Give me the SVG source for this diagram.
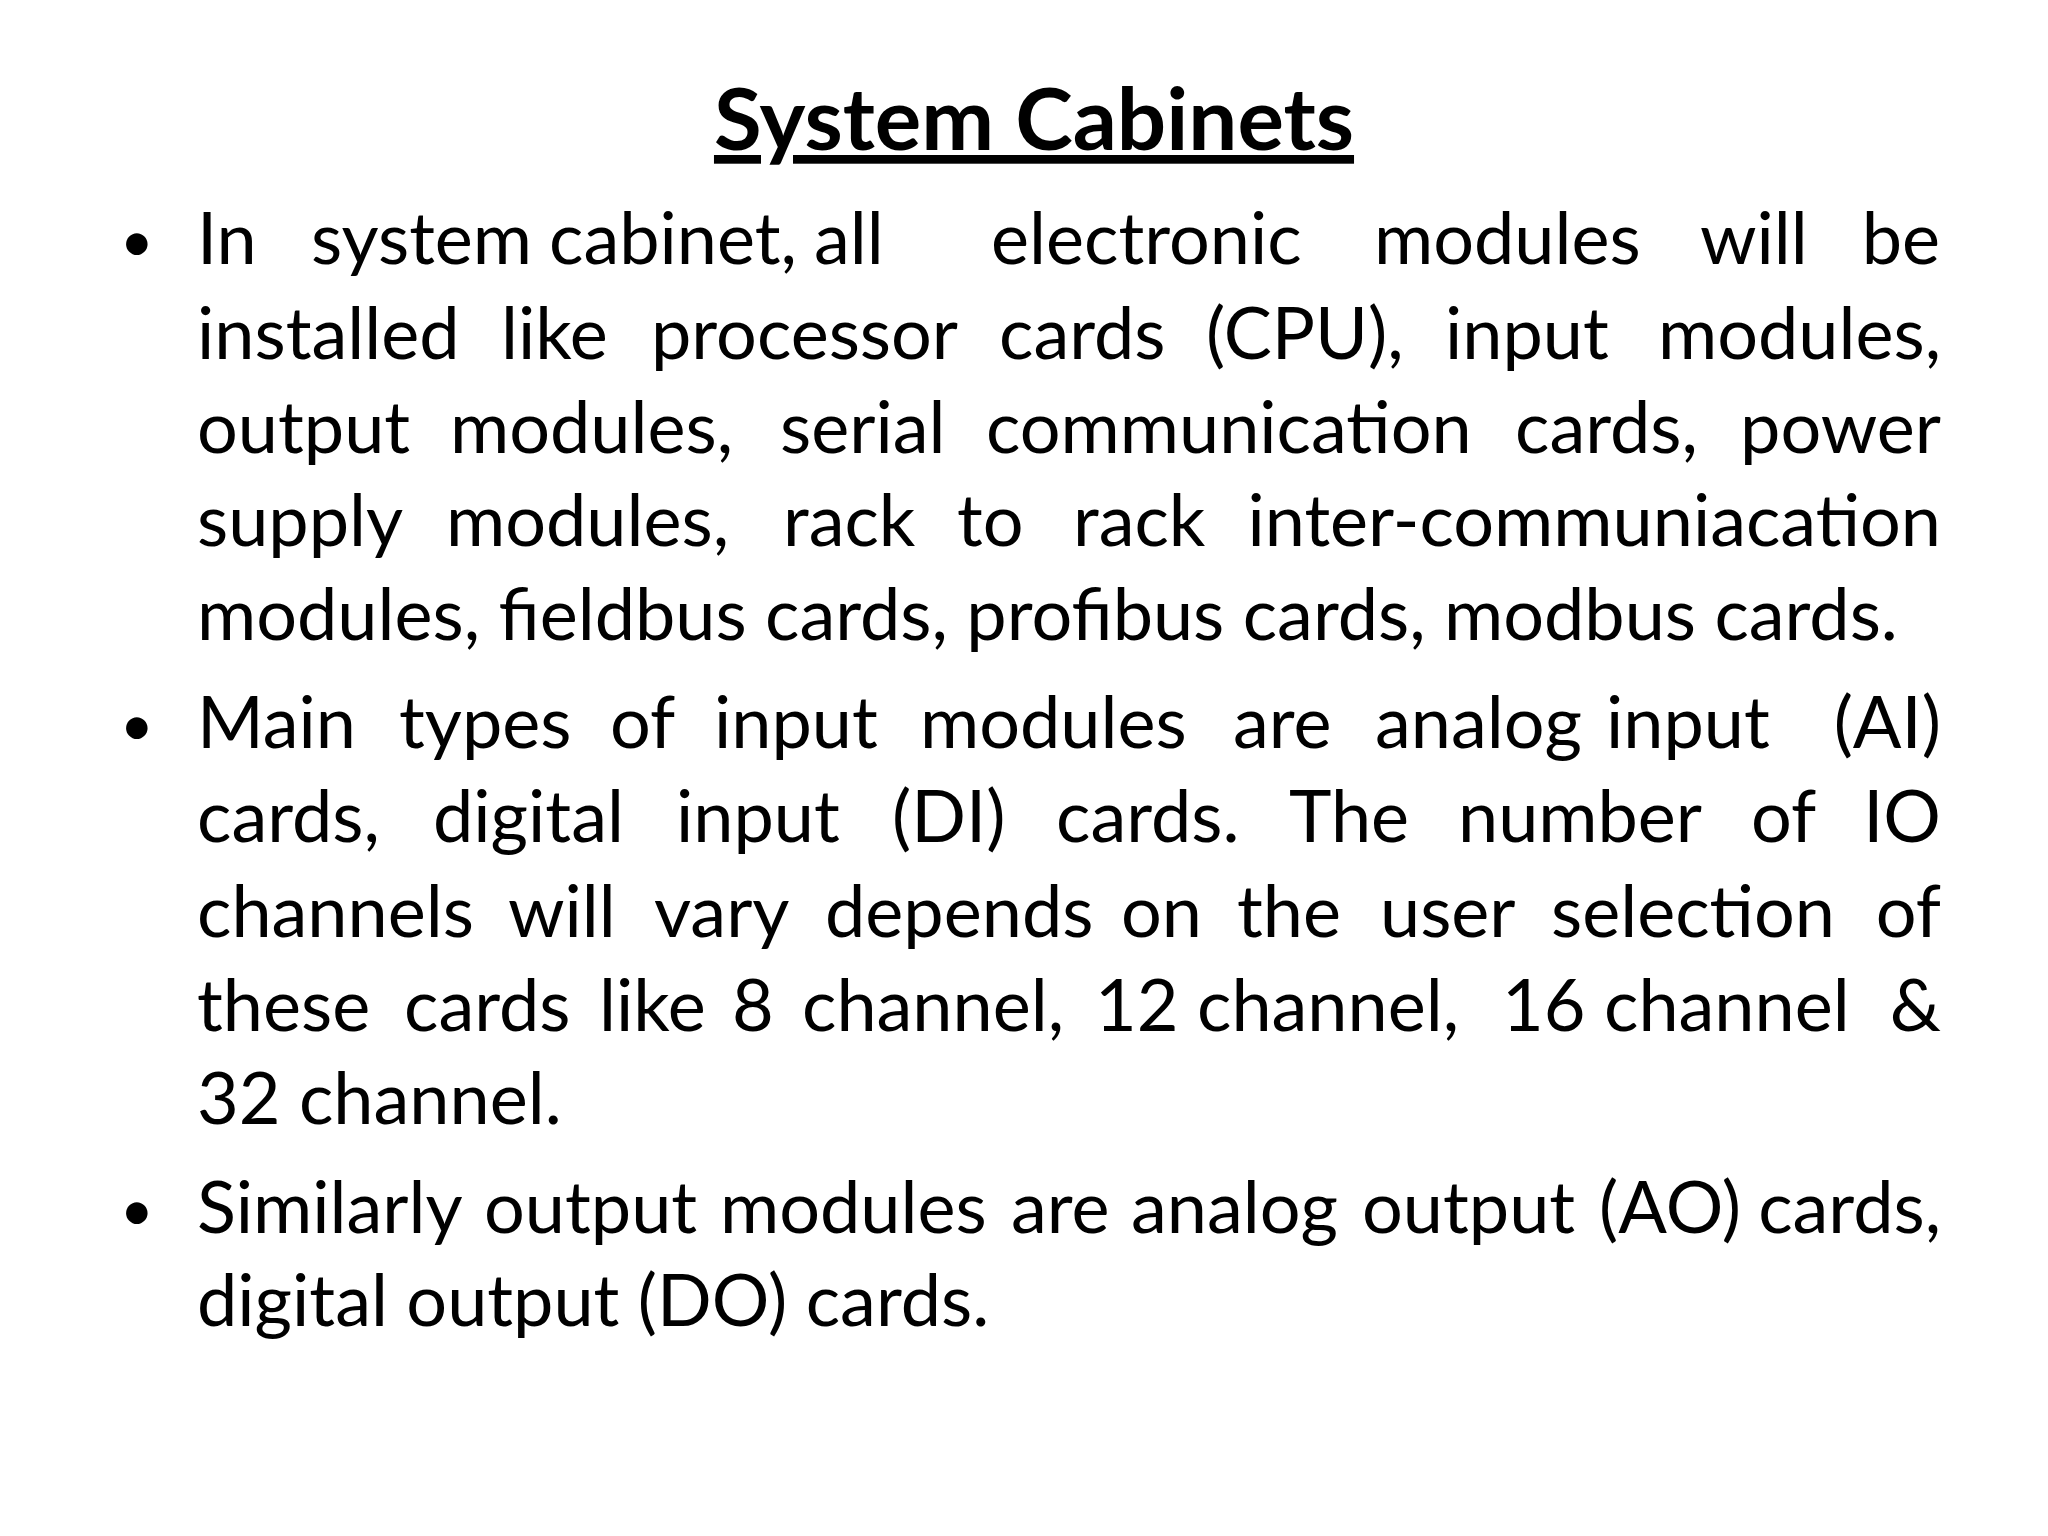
<svg xmlns="http://www.w3.org/2000/svg" width="2048" height="1536" viewBox="0 0 2048 1536">
<style>
.t{font-family:Lato,"Open Sans","Liberation Sans",sans-serif;font-size:72px;fill:#000}
.e{text-anchor:end}
.b{font-family:Lato,"Open Sans","Liberation Sans",sans-serif;font-size:58px;fill:#000}
.h{font-family:Lato,"Open Sans","Liberation Sans",sans-serif;font-size:87px;font-weight:bold;text-anchor:middle;text-decoration:underline}
</style>
<rect width="2048" height="1536" fill="#fff"/>
<text class="h" x="1034" y="150">System Cabinets</text>
<g id="bullets" class="b">
<text x="120" y="262">•</text><text x="120" y="746">•</text><text x="120" y="1231">•</text>
</g>
<g id="p1" class="t">
<text y="264"><tspan x="197">In</tspan><tspan x="311">system</tspan><tspan x="549">cabinet,</tspan><tspan x="814">all</tspan><tspan x="991">electronic</tspan><tspan x="1374">modules</tspan><tspan x="1700">will</tspan></text><text class="t e" x="1940" y="264">be</text>
<text y="359"><tspan x="197">installed</tspan><tspan x="501">like</tspan><tspan x="651">processor</tspan><tspan x="999">cards</tspan><tspan x="1206">(CPU),</tspan><tspan x="1445">input</tspan></text><text class="t e" x="1941" y="359">modules,</text>
<text y="453"><tspan x="197">output</tspan><tspan x="450">modules,</tspan><tspan x="780">serial</tspan><tspan x="986">communication</tspan><tspan x="1515">cards,</tspan></text><text class="t e" x="1941" y="453">power</text>
<text y="546"><tspan x="197">supply</tspan><tspan x="446">modules,</tspan><tspan x="783">rack</tspan><tspan x="957">to</tspan><tspan x="1073">rack</tspan></text><text class="t e" x="1941" y="546">inter-communiacation</text>
<text x="197" y="640">modules, fieldbus cards, profibus cards, modbus cards.</text>
</g>
<g id="p2" class="t">
<text y="748"><tspan x="197">Main</tspan><tspan x="399">types</tspan><tspan x="610">of</tspan><tspan x="714">input</tspan><tspan x="920">modules</tspan><tspan x="1233">are</tspan><tspan x="1375">analog</tspan><tspan x="1606">input</tspan></text><text class="t e" x="1941" y="748">(AI)</text>
<text y="842"><tspan x="197">cards,</tspan><tspan x="433">digital</tspan><tspan x="676">input</tspan><tspan x="892">(DI)</tspan><tspan x="1056">cards.</tspan><tspan x="1289">The</tspan><tspan x="1458">number</tspan><tspan x="1751">of</tspan></text><text class="t e" x="1941" y="842">IO</text>
<text y="937"><tspan x="197">channels</tspan><tspan x="508">will</tspan><tspan x="654">vary</tspan><tspan x="825">depends</tspan><tspan x="1121">on</tspan><tspan x="1237">the</tspan><tspan x="1380">user</tspan><tspan x="1551">selection</tspan></text><text class="t e" x="1941" y="937">of</text>
<text y="1031"><tspan x="197">these</tspan><tspan x="404">cards</tspan><tspan x="599">like</tspan><tspan x="732">8</tspan><tspan x="802">channel,</tspan><tspan x="1095">12</tspan><tspan x="1197">channel,</tspan><tspan x="1502">16</tspan><tspan x="1604">channel</tspan></text><text class="t e" x="1941" y="1031">&amp;</text>
<text x="197" y="1124">32 channel.</text>
</g>
<g id="p3" class="t">
<text y="1233"><tspan x="197">Similarly</tspan><tspan x="484">output</tspan><tspan x="720">modules</tspan><tspan x="1011">are</tspan><tspan x="1131">analog</tspan><tspan x="1362">output</tspan><tspan x="1599">(AO)</tspan></text><text class="t e" x="1941" y="1233">cards,</text>
<text x="197" y="1326">digital output (DO) cards.</text>
</g>
</svg>
